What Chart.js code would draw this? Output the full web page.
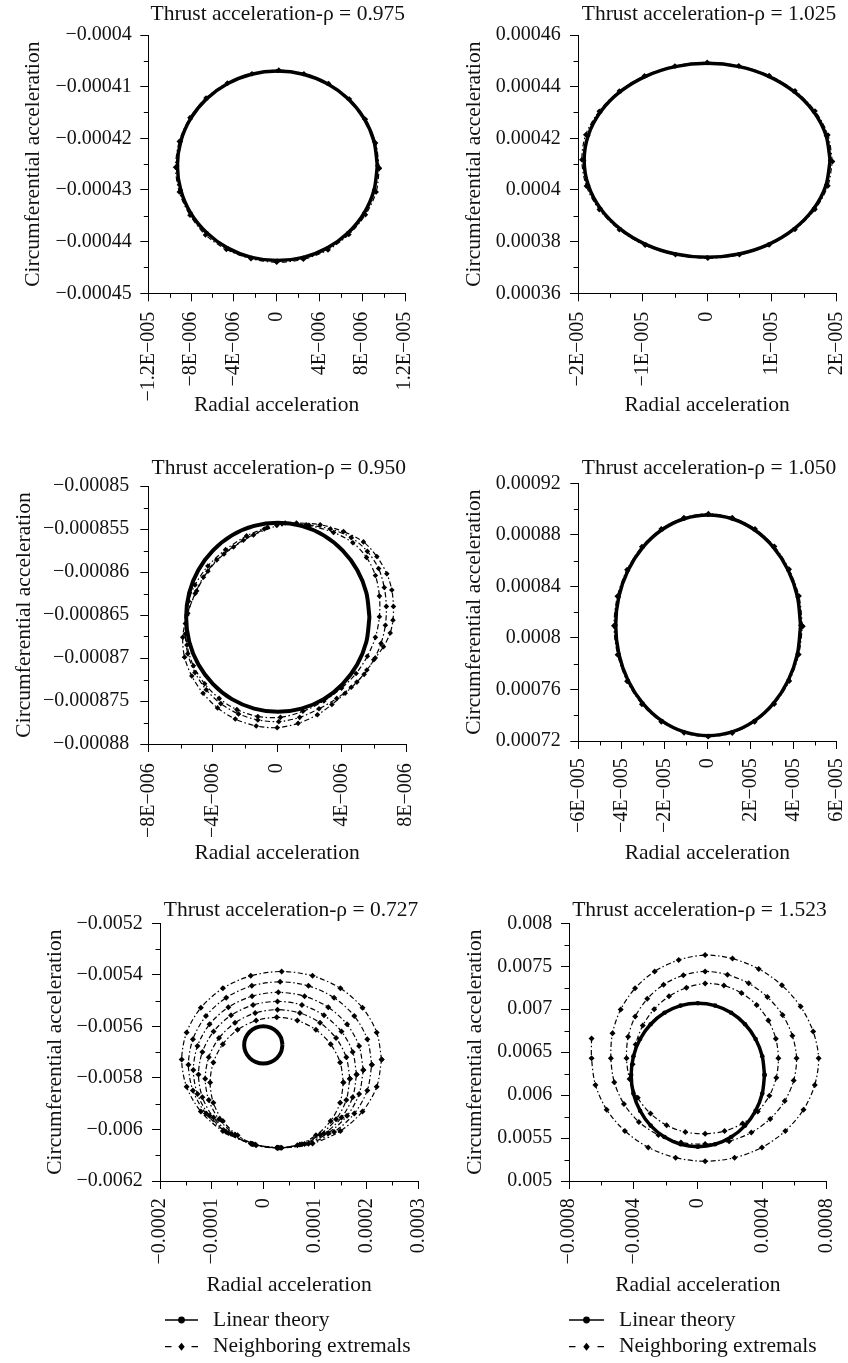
<!DOCTYPE html>
<html>
<head>
<meta charset="utf-8">
<script src="https://cdn.jsdelivr.net/npm/chart.js@4.4.0/dist/chart.umd.min.js"></script>
<style>
html,body{margin:0;padding:0;background:#fff;overflow:hidden;width:848px;height:1363px;position:relative;}
canvas{position:absolute;}
</style>
</head>
<body>
<canvas id="c1"></canvas><canvas id="c2"></canvas><canvas id="c3"></canvas>
<canvas id="c4"></canvas><canvas id="c5"></canvas><canvas id="c6"></canvas>
<script>
// ---------------- text ----------------
const panelTitles = ['Thrust acceleration-ρ = 0.975','Thrust acceleration-ρ = 1.025','Thrust acceleration-ρ = 0.950','Thrust acceleration-ρ = 1.050','Thrust acceleration-ρ = 0.727','Thrust acceleration-ρ = 1.523'];
const xAxisTitle = 'Radial acceleration';
const yAxisTitle = 'Circumferential acceleration';
const seriesNames = ['Linear theory','Neighboring extremals'];

// ---------------- ticks ----------------
const p1XTicks = [-1.2e-5,-8e-6,-4e-6,0,4e-6,8e-6,1.2e-5];
const p1XLabels = ['−1.2E−005','−8E−006','−4E−006','0','4E−006','8E−006','1.2E−005'];
const p1YTicks = [-0.00045,-0.00044,-0.00043,-0.00042,-0.00041,-0.0004];
const p1YLabels = ['−0.00045','−0.00044','−0.00043','−0.00042','−0.00041','−0.0004'];
const p2XTicks = [-2e-5,-1e-5,0,1e-5,2e-5];
const p2XLabels = ['−2E−005','−1E−005','0','1E−005','2E−005'];
const p2YTicks = [0.00036,0.00038,0.0004,0.00042,0.00044,0.00046];
const p2YLabels = ['0.00036','0.00038','0.0004','0.00042','0.00044','0.00046'];
const p3XTicks = [-8e-6,-4e-6,0,4e-6,8e-6];
const p3XLabels = ['−8E−006','−4E−006','0','4E−006','8E−006'];
const p3YTicks = [-0.00088,-0.000875,-0.00087,-0.000865,-0.00086,-0.000855,-0.00085];
const p3YLabels = ['−0.00088','−0.000875','−0.00087','−0.000865','−0.00086','−0.000855','−0.00085'];
const p4XTicks = [-6e-5,-4e-5,-2e-5,0,2e-5,4e-5,6e-5];
const p4XLabels = ['−6E−005','−4E−005','−2E−005','0','2E−005','4E−005','6E−005'];
const p4YTicks = [0.00072,0.00076,0.0008,0.00084,0.00088,0.00092];
const p4YLabels = ['0.00072','0.00076','0.0008','0.00084','0.00088','0.00092'];
const p5XTicks = [-0.0002,-0.0001,0,0.0001,0.0002,0.0003];
const p5XLabels = ['−0.0002','−0.0001','0','0.0001','0.0002','0.0003'];
const p5YTicks = [-0.0062,-0.006,-0.0058,-0.0056,-0.0054,-0.0052];
const p5YLabels = ['−0.0062','−0.006','−0.0058','−0.0056','−0.0054','−0.0052'];
const p6XTicks = [-0.0008,-0.0004,0,0.0004,0.0008];
const p6XLabels = ['−0.0008','−0.0004','0','0.0004','0.0008'];
const p6YTicks = [0.005,0.0055,0.006,0.0065,0.007,0.0075,0.008];
const p6YLabels = ['0.005','0.0055','0.006','0.0065','0.007','0.0075','0.008'];

// ---------------- data: panel 1 (rho = 0.975) ----------------
const p1LinX = [9.42e-6,9.10e-6,8.17e-6,6.68e-6,4.75e-6,2.49e-6,0.07e-6,-2.35e-6,-4.61e-6,-6.54e-6,-8.03e-6,-8.96e-6,-9.28e-6,-8.96e-6,-8.03e-6,-6.54e-6,-4.61e-6,-2.35e-6,0.07e-6,2.49e-6,4.75e-6,6.68e-6,8.17e-6,9.10e-6,9.42e-6];
const p1LinY = [-425.32e-6,-420.57e-6,-416.15e-6,-412.35e-6,-409.43e-6,-407.59e-6,-406.97e-6,-407.59e-6,-409.43e-6,-412.35e-6,-416.15e-6,-420.57e-6,-425.32e-6,-430.07e-6,-434.50e-6,-438.29e-6,-441.21e-6,-443.05e-6,-443.67e-6,-443.05e-6,-441.21e-6,-438.29e-6,-434.50e-6,-430.07e-6,-425.32e-6];
const p1NbrX = [9.6e-6,9.25e-6,8.3e-6,6.8e-6,4.85e-6,2.55e-6,0.2e-6,-2.3e-6,-4.6e-6,-6.6e-6,-8.1e-6,-9.1e-6,-9.45e-6,-9.1e-6,-8.1e-6,-6.65e-6,-4.7e-6,-2.4e-6,0,2.5e-6,4.8e-6,6.75e-6,8.3e-6,9.3e-6,9.6e-6];
const p1NbrY = [-425.8e-6,-420.9e-6,-416.3e-6,-412.4e-6,-409.4e-6,-407.5e-6,-406.8e-6,-407.5e-6,-409.3e-6,-412.2e-6,-416.0e-6,-420.6e-6,-425.6e-6,-430.4e-6,-434.9e-6,-438.7e-6,-441.5e-6,-443.3e-6,-444.0e-6,-443.4e-6,-441.6e-6,-438.6e-6,-434.8e-6,-430.4e-6,-425.8e-6];

// ---------------- data: panel 2 (rho = 1.025) ----------------
const p2LinX = [19.05e-6,18.40e-6,16.50e-6,13.47e-6,9.53e-6,4.93e-6,0,-4.93e-6,-9.53e-6,-13.47e-6,-16.50e-6,-18.40e-6,-19.05e-6,-18.40e-6,-16.50e-6,-13.47e-6,-9.53e-6,-4.93e-6,0,4.93e-6,9.53e-6,13.47e-6,16.50e-6,18.40e-6,19.05e-6];
const p2LinY = [411.49e-6,421.22e-6,430.27e-6,438.04e-6,444.01e-6,447.76e-6,449.04e-6,447.76e-6,444.01e-6,438.04e-6,430.27e-6,421.22e-6,411.49e-6,401.77e-6,392.72e-6,384.94e-6,378.97e-6,375.22e-6,373.94e-6,375.22e-6,378.97e-6,384.94e-6,392.72e-6,401.77e-6,411.49e-6];
const p2NbrX = [19.4e-6,18.7e-6,16.7e-6,13.6e-6,9.6e-6,4.9e-6,0,-5.0e-6,-9.7e-6,-13.6e-6,-16.7e-6,-18.8e-6,-19.4e-6,-18.7e-6,-16.7e-6,-13.6e-6,-9.6e-6,-4.9e-6,0.1e-6,5.0e-6,9.6e-6,13.6e-6,16.7e-6,18.7e-6,19.4e-6];
const p2NbrY = [411.0e-6,421.3e-6,430.6e-6,438.4e-6,444.3e-6,448.1e-6,449.4e-6,448.0e-6,444.2e-6,438.3e-6,430.5e-6,421.4e-6,411.7e-6,401.5e-6,392.4e-6,384.6e-6,378.6e-6,374.9e-6,373.6e-6,374.9e-6,378.7e-6,384.7e-6,392.5e-6,401.6e-6,411.0e-6];

// ---------------- data: panel 3 (rho = 0.950) ----------------
const p3LinX = [5.73e-6,5.54e-6,4.97e-6,4.06e-6,2.89e-6,1.51e-6,0.04e-6,-1.43e-6,-2.81e-6,-3.98e-6,-4.89e-6,-5.46e-6,-5.65e-6,-5.46e-6,-4.89e-6,-3.98e-6,-2.81e-6,-1.43e-6,0.04e-6,1.51e-6,2.89e-6,4.06e-6,4.97e-6,5.54e-6,5.73e-6];
const p3LinY = [-865.26e-6,-862.41e-6,-859.77e-6,-857.49e-6,-855.74e-6,-854.64e-6,-854.27e-6,-854.64e-6,-855.74e-6,-857.49e-6,-859.77e-6,-862.41e-6,-865.26e-6,-868.11e-6,-870.76e-6,-873.03e-6,-874.78e-6,-875.88e-6,-876.25e-6,-875.88e-6,-874.78e-6,-873.03e-6,-870.76e-6,-868.11e-6,-865.26e-6];
const p3NbrX1 = [0.5e-6,2.0e-6,3.5e-6,4.7e-6,5.55e-6,6.1e-6,6.35e-6,6.35e-6,6.1e-6,5.6e-6,4.9e-6,4.0e-6,2.9e-6,1.6e-6,0.2e-6,-1.2e-6,-2.5e-6,-3.6e-6,-4.5e-6,-5.2e-6,-5.6e-6,-5.7e-6,-5.5e-6,-5.1e-6,-4.3e-6,-3.2e-6,-1.9e-6,-0.6e-6];
const p3NbrY1 = [-854.3e-6,-854.6e-6,-855.4e-6,-856.6e-6,-858.3e-6,-860.4e-6,-862.8e-6,-865.2e-6,-867.6e-6,-869.8e-6,-871.8e-6,-873.5e-6,-875.0e-6,-876.2e-6,-876.9e-6,-876.8e-6,-876.0e-6,-874.7e-6,-873.0e-6,-870.9e-6,-868.5e-6,-866.0e-6,-863.4e-6,-861.5e-6,-859.3e-6,-857.4e-6,-855.8e-6,-854.8e-6];
const p3NbrX2 = [0.3e-6,1.8e-6,3.3e-6,4.6e-6,5.6e-6,6.3e-6,6.65e-6,6.78e-6,6.72e-6,6.45e-6,6.0e-6,5.4e-6,4.6e-6,3.7e-6,2.6e-6,1.4e-6,0.1e-6,-1.2e-6,-2.4e-6,-3.5e-6,-4.4e-6,-5.1e-6,-5.55e-6,-5.7e-6,-5.55e-6,-5.0e-6,-4.3e-6,-3.3e-6,-2.1e-6,-0.8e-6];
const p3NbrY2 = [-854.4e-6,-854.5e-6,-855.0e-6,-856.0e-6,-857.6e-6,-859.6e-6,-861.8e-6,-864.0e-6,-866.2e-6,-868.3e-6,-870.2e-6,-871.9e-6,-873.4e-6,-874.7e-6,-875.9e-6,-876.9e-6,-877.4e-6,-877.2e-6,-876.5e-6,-875.3e-6,-873.7e-6,-871.7e-6,-869.5e-6,-867.2e-6,-864.8e-6,-862.2e-6,-859.9e-6,-857.9e-6,-856.3e-6,-855.0e-6];
const p3NbrX3 = [0.0,1.2e-6,2.67e-6,4.12e-6,5.36e-6,6.19e-6,6.81e-6,7.12e-6,7.22e-6,7.19e-6,7.02e-6,6.6e-6,6.09e-6,5.57e-6,4.95e-6,4.22e-6,3.4e-6,2.5e-6,1.3e-6,0.0,-1.3e-6,-2.6e-6,-3.7e-6,-4.6e-6,-5.3e-6,-5.75e-6,-5.86e-6,-5.6e-6,-5.09e-6,-4.58e-6,-3.75e-6,-2.71e-6,-1.47e-6,-0.02e-6];
const p3NbrY3 = [-854.4e-6,-854.3e-6,-854.5e-6,-855.3e-6,-856.5e-6,-858.2e-6,-860.2e-6,-862.1e-6,-864.0e-6,-865.6e-6,-867.1e-6,-868.7e-6,-870.0e-6,-871.4e-6,-872.8e-6,-874.1e-6,-875.4e-6,-876.6e-6,-877.6e-6,-878.1e-6,-877.9e-6,-877.1e-6,-875.8e-6,-874.1e-6,-872.1e-6,-869.9e-6,-867.6e-6,-865.0e-6,-862.5e-6,-860.6e-6,-858.6e-6,-857.1e-6,-855.7e-6,-854.6e-6];

// ---------------- data: panel 4 (rho = 1.050) ----------------
const p4LinX = [43.39e-6,41.93e-6,37.63e-6,30.79e-6,21.89e-6,11.53e-6,0.39e-6,-10.75e-6,-21.11e-6,-30.01e-6,-36.85e-6,-41.15e-6,-42.61e-6,-41.15e-6,-36.85e-6,-30.01e-6,-21.11e-6,-10.75e-6,0.39e-6,11.53e-6,21.89e-6,30.79e-6,37.63e-6,41.93e-6,43.39e-6];
const p4LinY = [809.78e-6,831.96e-6,852.60e-6,870.33e-6,883.94e-6,892.51e-6,895.42e-6,892.51e-6,883.94e-6,870.33e-6,852.60e-6,831.96e-6,809.78e-6,787.60e-6,766.96e-6,749.23e-6,735.62e-6,727.05e-6,724.14e-6,727.05e-6,735.62e-6,749.23e-6,766.96e-6,787.60e-6,809.78e-6];
const p4NbrX = [44.3e-6,42.6e-6,38.0e-6,31.2e-6,22.2e-6,11.6e-6,0.5e-6,-10.9e-6,-21.4e-6,-30.4e-6,-37.3e-6,-41.8e-6,-43.4e-6,-41.7e-6,-37.3e-6,-30.4e-6,-21.4e-6,-10.8e-6,0.4e-6,11.6e-6,22.0e-6,31.1e-6,38.1e-6,42.5e-6,44.3e-6];
const p4NbrY = [809.0e-6,832.5e-6,853.3e-6,871.0e-6,884.6e-6,893.3e-6,896.3e-6,893.2e-6,884.5e-6,870.8e-6,853.0e-6,832.3e-6,809.5e-6,787.0e-6,766.4e-6,748.6e-6,735.0e-6,726.4e-6,723.4e-6,726.3e-6,735.0e-6,748.7e-6,766.5e-6,787.2e-6,809.0e-6];

// ---------------- data: panel 5 (rho = 0.727) ----------------
const p5LinX = [0.371e-4,0.343e-4,0.262e-4,0.142e-4,0,-0.142e-4,-0.262e-4,-0.343e-4,-0.371e-4,-0.343e-4,-0.262e-4,-0.142e-4,0,0.142e-4,0.262e-4,0.343e-4,0.371e-4];
const p5LinY = [-56.72e-4,-56.443e-4,-56.208e-4,-56.051e-4,-55.996e-4,-56.051e-4,-56.208e-4,-56.443e-4,-56.72e-4,-56.997e-4,-57.232e-4,-57.389e-4,-57.444e-4,-57.389e-4,-57.232e-4,-56.997e-4,-56.72e-4];
const p5NbrX = [
 [2.29e-4,2.195e-4,1.92e-4,1.493e-4,0.953e-4,0.355e-4,-0.243e-4,-0.783e-4,-1.21e-4,-1.485e-4,-1.58e-4,-1.485e-4,-1.21e-4,-0.783e-4,-0.243e-4,0.355e-4,0.953e-4,1.493e-4,1.92e-4,2.195e-4,2.29e-4],
 [2.10e-4,2.013e-4,1.761e-4,1.369e-4,0.873e-4,0.325e-4,-0.223e-4,-0.719e-4,-1.111e-4,-1.363e-4,-1.45e-4,-1.363e-4,-1.111e-4,-0.719e-4,-0.223e-4,0.325e-4,0.873e-4,1.369e-4,1.761e-4,2.013e-4,2.10e-4],
 [1.935e-4,1.854e-4,1.621e-4,1.257e-4,0.798e-4,0.29e-4,-0.218e-4,-0.677e-4,-1.041e-4,-1.274e-4,-1.355e-4,-1.274e-4,-1.041e-4,-0.677e-4,-0.218e-4,0.29e-4,0.798e-4,1.257e-4,1.621e-4,1.854e-4,1.935e-4],
 [1.805e-4,1.73e-4,1.513e-4,1.175e-4,0.748e-4,0.275e-4,-0.198e-4,-0.625e-4,-0.963e-4,-1.18e-4,-1.255e-4,-1.18e-4,-0.963e-4,-0.625e-4,-0.198e-4,0.275e-4,0.748e-4,1.175e-4,1.513e-4,1.73e-4,1.805e-4],
 [1.675e-4,1.606e-4,1.408e-4,1.098e-4,0.708e-4,0.275e-4,-0.158e-4,-0.548e-4,-0.858e-4,-1.056e-4,-1.125e-4,-1.056e-4,-0.858e-4,-0.548e-4,-0.158e-4,0.275e-4,0.708e-4,1.098e-4,1.408e-4,1.606e-4,1.675e-4],
 [1.55e-4,1.487e-4,1.304e-4,1.019e-4,0.659e-4,0.26e-4,-0.139e-4,-0.499e-4,-0.784e-4,-0.967e-4,-1.03e-4,-0.967e-4,-0.784e-4,-0.499e-4,-0.139e-4,0.26e-4,0.659e-4,1.019e-4,1.304e-4,1.487e-4,1.55e-4]
];
const p5NbrY = [
 [-57.29e-4,-56.233e-4,-55.279e-4,-54.523e-4,-54.038e-4,-53.87e-4,-54.038e-4,-54.523e-4,-55.279e-4,-56.233e-4,-57.29e-4,-58.347e-4,-59.301e-4,-60.057e-4,-60.542e-4,-60.71e-4,-60.542e-4,-60.057e-4,-59.301e-4,-58.347e-4,-57.29e-4],
 [-57.49e-4,-56.495e-4,-55.597e-4,-54.885e-4,-54.428e-4,-54.27e-4,-54.428e-4,-54.885e-4,-55.597e-4,-56.495e-4,-57.49e-4,-58.485e-4,-59.383e-4,-60.095e-4,-60.552e-4,-60.71e-4,-60.552e-4,-60.095e-4,-59.383e-4,-58.485e-4,-57.49e-4],
 [-57.695e-4,-56.763e-4,-55.922e-4,-55.256e-4,-54.828e-4,-54.68e-4,-54.828e-4,-55.256e-4,-55.922e-4,-56.763e-4,-57.695e-4,-58.627e-4,-59.468e-4,-60.134e-4,-60.562e-4,-60.71e-4,-60.562e-4,-60.134e-4,-59.468e-4,-58.627e-4,-57.695e-4],
 [-57.87e-4,-56.992e-4,-56.2e-4,-55.572e-4,-55.169e-4,-55.03e-4,-55.169e-4,-55.572e-4,-56.2e-4,-56.992e-4,-57.87e-4,-58.748e-4,-59.54e-4,-60.168e-4,-60.571e-4,-60.71e-4,-60.571e-4,-60.168e-4,-59.54e-4,-58.748e-4,-57.87e-4],
 [-58.03e-4,-57.202e-4,-56.454e-4,-55.862e-4,-55.481e-4,-55.35e-4,-55.481e-4,-55.862e-4,-56.454e-4,-57.202e-4,-58.03e-4,-58.858e-4,-59.606e-4,-60.198e-4,-60.579e-4,-60.71e-4,-60.579e-4,-60.198e-4,-59.606e-4,-58.858e-4,-58.03e-4],
 [-58.18e-4,-57.398e-4,-56.692e-4,-56.133e-4,-55.774e-4,-55.65e-4,-55.774e-4,-56.133e-4,-56.692e-4,-57.398e-4,-58.18e-4,-58.962e-4,-59.668e-4,-60.227e-4,-60.614e-4,-60.71e-4,-60.614e-4,-60.227e-4,-59.668e-4,-58.962e-4,-58.18e-4]
];

// ---------------- data: panel 6 (rho = 1.523) ----------------
const p6LinX = [4.14e-4,4.0e-4,3.585e-4,2.93e-4,2.07e-4,1.07e-4,0,-1.07e-4,-2.07e-4,-2.93e-4,-3.585e-4,-4.0e-4,-4.14e-4,-4.0e-4,-3.585e-4,-2.93e-4,-2.07e-4,-1.07e-4,0,1.07e-4,2.07e-4,2.93e-4,3.585e-4,4.0e-4,4.14e-4];
const p6LinY = [62.35e-4,64.51e-4,66.53e-4,68.25e-4,69.58e-4,70.42e-4,70.7e-4,70.42e-4,69.58e-4,68.25e-4,66.53e-4,64.51e-4,62.35e-4,60.19e-4,58.18e-4,56.45e-4,55.12e-4,54.28e-4,54.0e-4,54.28e-4,55.12e-4,56.45e-4,58.18e-4,60.19e-4,62.35e-4];
const p6NbrX = [-6.6e-4,-6.6e-4,-6.36e-4,-5.66e-4,-4.53e-4,-3.08e-4,-1.38e-4,0.45e-4,2.28e-4,3.98e-4,5.43e-4,6.56e-4,7.26e-4,7.5e-4,7.16e-4,6.38e-4,5.22e-4,3.78e-4,2.15e-4,0.45e-4,-1.19e-4,-2.68e-4,-3.9e-4,-4.79e-4,-5.3e-4,-5.4e-4,-5.19e-4,-4.59e-4,-3.66e-4,-2.45e-4,-1.05e-4,0.45e-4,1.94e-4,3.32e-4,4.49e-4,5.39e-4,5.95e-4,6.13e-4,5.87e-4,5.26e-4,4.32e-4,3.16e-4,1.84e-4,0.45e-4,-0.9e-4,-2.13e-4,-3.14e-4,-3.89e-4,-4.33e-4,-4.43e-4,-4.24e-4,-3.73e-4,-2.94e-4,-1.94e-4,-0.78e-4,0.45e-4,1.66e-4,2.78e-4,3.72e-4,4.44e-4,4.87e-4,5.0e-4,4.84e-4,4.38e-4,3.65e-4,2.71e-4,1.62e-4,0.45e-4,-0.71e-4,-1.79e-4,-2.71e-4,-3.42e-4,-3.86e-4,-4.05e-4];
const p6NbrY = [66.6e-4,64.3e-4,61.19e-4,58.3e-4,55.82e-4,53.91e-4,52.71e-4,52.3e-4,52.71e-4,53.91e-4,55.82e-4,58.3e-4,61.19e-4,64.3e-4,67.41e-4,70.3e-4,72.78e-4,74.69e-4,75.89e-4,76.3e-4,75.73e-4,74.4e-4,72.43e-4,69.97e-4,67.19e-4,64.3e-4,61.5e-4,58.97e-4,56.88e-4,55.35e-4,54.48e-4,54.3e-4,54.64e-4,55.64e-4,57.23e-4,59.3e-4,61.71e-4,64.3e-4,66.9e-4,69.33e-4,71.41e-4,73.01e-4,74.01e-4,74.4e-4,73.95e-4,72.86e-4,71.21e-4,69.14e-4,66.78e-4,64.3e-4,61.88e-4,59.68e-4,57.85e-4,56.49e-4,55.69e-4,55.5e-4,55.81e-4,56.7e-4,58.1e-4,59.92e-4,62.03e-4,64.3e-4,66.57e-4,68.68e-4,70.49e-4,71.88e-4,72.75e-4,73.0e-4,72.5e-4,71.5e-4,70.0e-4,68.1e-4,65.9e-4,63.6e-4];

// ---------------- rendering ----------------
const FONT = "'Liberation Serif','Times New Roman',serif";
const TXT = '#111';
Chart.defaults.font.family = FONT;
Chart.defaults.color = TXT;

function pts(xs, ys){ return xs.map((x,i)=>({x:x, y:ys[i]})); }

const minorTicks = {
  id:'minorTicks',
  afterDraw(chart){
    const ctx = chart.ctx, a = chart.chartArea;
    ctx.save(); ctx.strokeStyle = '#000'; ctx.lineWidth = 1;
    ['x','y'].forEach(id=>{
      const s = chart.scales[id]; const t = s.ticks.map(k=>k.value);
      for (let i=0;i<t.length-1;i++){
        const p = Math.round(s.getPixelForValue((t[i]+t[i+1])/2)) + 0.5;
        ctx.beginPath();
        if (id==='x'){ ctx.moveTo(p, a.bottom); ctx.lineTo(p, a.bottom+4.5); }
        else { ctx.moveTo(a.left-4.5, p); ctx.lineTo(a.left, p); }
        ctx.stroke();
      }
    });
    ctx.restore();
  }
};

const sampleLegend = {
  id:'sampleLegend',
  afterDraw(chart, args, o){
    if (!o || !o.show) return;
    const ctx = chart.ctx; ctx.save();
    ctx.fillStyle = '#000'; ctx.strokeStyle = '#000';
    const cx = (o.x0+o.x1)/2;
    ctx.lineWidth = 1.6;
    ctx.beginPath(); ctx.moveTo(o.x0, o.y1); ctx.lineTo(o.x1, o.y1); ctx.stroke();
    ctx.beginPath(); ctx.arc(cx, o.y1, 3.4, 0, Math.PI*2); ctx.fill();
    ctx.lineWidth = 1.3;
    ctx.beginPath(); ctx.moveTo(o.x0, o.y2); ctx.lineTo(o.x0+6.5, o.y2); ctx.moveTo(o.x1-6.5, o.y2); ctx.lineTo(o.x1, o.y2); ctx.stroke();
    ctx.beginPath(); ctx.moveTo(cx, o.y2-4); ctx.lineTo(cx+3.2, o.y2); ctx.lineTo(cx, o.y2+4); ctx.lineTo(cx-3.2, o.y2); ctx.closePath(); ctx.fill();
    ctx.font = '21.5px ' + FONT; ctx.textBaseline = 'middle'; ctx.textAlign = 'left'; ctx.fillStyle = TXT;
    ctx.fillText(seriesNames[0], o.tx, o.y1);
    ctx.fillText(seriesNames[1], o.tx, o.y2);
    ctx.restore();
  }
};

// layout per panel (canvas wider than the column so the x-axis end labels never squeeze the plot)
const panels = [
 {id:'c1', left:0, top:0, w:520, h:440, pad:{left:0,right:115,top:0,bottom:22.1}, titlePad:{top:1,bottom:8.2}, yW:148.3, yTitlePad:20.1, yTickPad:8.6, xH:124.6, xTickPad:10.4,
  title:panelTitles[0], xT:p1XTicks, xL:p1XLabels, yT:p1YTicks, yL:p1YLabels,
  lin:pts(p1LinX,p1LinY), nbr:[pts(p1NbrX,p1NbrY)], linW:3.5, linR:2, nbrR:2.8},
 {id:'c2', left:424, top:0, w:520, h:440, pad:{left:0,right:107.7,top:0,bottom:22.1}, titlePad:{top:1,bottom:8.2}, yW:154, yTitlePad:37.9, yTickPad:9.3, xH:124.6, xTickPad:10.4,
  title:panelTitles[1], xT:p2XTicks, xL:p2XLabels, yT:p2YTicks, yL:p2YLabels,
  lin:pts(p2LinX,p2LinY), nbr:[pts(p2NbrX,p2NbrY)], linW:3.5, linR:2, nbrR:2.8},
 {id:'c3', left:0, top:440, w:520, h:440, pad:{left:0,right:114,top:0,bottom:14.1}, titlePad:{top:15.4,bottom:4.8}, yW:148.3, yTitlePad:11.1, yTickPad:11, xH:121.9, xTickPad:11.3,
  title:panelTitles[2], xT:p3XTicks, xL:p3XLabels, yT:p3YTicks, yL:p3YLabels,
  lin:pts(p3LinX,p3LinY), nbr:[pts(p3NbrX1,p3NbrY1),pts(p3NbrX2,p3NbrY2),pts(p3NbrX3,p3NbrY3)], linW:4, linR:1.5, nbrR:2.8},
 {id:'c4', left:424, top:440, w:520, h:440, pad:{left:0,right:107.7,top:0,bottom:14.1}, titlePad:{top:15.4,bottom:2.1}, yW:154.3, yTitlePad:37.9, yTickPad:9.6, xH:124.9, xTickPad:9.3,
  title:panelTitles[3], xT:p4XTicks, xL:p4XLabels, yT:p4YTicks, yL:p4YLabels,
  lin:pts(p4LinX,p4LinY), nbr:[pts(p4NbrX,p4NbrY)], linW:3.5, linR:2, nbrR:3},
 {id:'c5', left:0, top:880, w:520, h:483, pad:{left:0,right:101.7,top:0,bottom:65.1}, titlePad:{top:17.1,bottom:0.4}, yW:160, yTitlePad:42.1, yTickPad:9.3, xH:116.9, xTickPad:9.3,
  title:panelTitles[4], xT:p5XTicks, xL:p5XLabels, yT:p5YTicks, yL:p5YLabels,
  lin:pts(p5LinX,p5LinY), nbr:p5NbrX.map((xs,i)=>pts(xs,p5NbrY[i])), linW:4, linR:0, nbrR:3,
  legend:{show:true,x0:165,x1:198,tx:213,y1:440,y2:466.7}},
 {id:'c6', left:424, top:880, w:520, h:483, pad:{left:0,right:117.3,top:0,bottom:65.1}, titlePad:{top:17.1,bottom:0.4}, yW:145, yTitlePad:38.1, yTickPad:8.7, xH:116.9, xTickPad:9.3,
  title:panelTitles[5], xT:p6XTicks, xL:p6XLabels, yT:p6YTicks, yL:p6YLabels,
  lin:pts(p6LinX,p6LinY), nbr:[pts(p6NbrX,p6NbrY)], linW:3.5, linR:2.3, nbrR:3,
  legend:{show:true,x0:145,x1:180,tx:195,y1:440,y2:466.7}}
];

function axis(ticks, labels, isX, p){
  return {
    type:'linear', position: isX ? 'bottom' : 'left',
    min: ticks[0], max: ticks[ticks.length-1],
    afterBuildTicks: s => { s.ticks = ticks.map(v=>({value:v})); },
    afterFit: s => { if (isX) s.height = p.xH; else s.width = p.yW; },
    ticks: Object.assign({autoSkip:false, padding: isX ? p.xTickPad : p.yTickPad, font:{size:20}, color:TXT,
      callback:(v,i)=>labels[i]}, isX ? {maxRotation:90, minRotation:90} : {}),
    grid:{drawOnChartArea:false, drawTicks:true, tickLength:8, tickColor:'#000', tickWidth:1},
    border:{display:true, color:'#000', width:1},
    title:{display:true, text: isX ? xAxisTitle : yAxisTitle, font:{size:21.5, weight:'normal'}, color:TXT,
      padding: isX ? {top:0,bottom:0} : {top:p.yTitlePad,bottom:0}}
  };
}

panels.forEach(p=>{
  const cv = document.getElementById(p.id);
  cv.width = p.w; cv.height = p.h;
  cv.style.left = p.left+'px'; cv.style.top = p.top+'px';
  cv.style.width = p.w+'px'; cv.style.height = p.h+'px';
  const datasets = [{
    label: seriesNames[0], data: p.lin, showLine:true, borderColor:'#000', backgroundColor:'#000',
    borderWidth:p.linW, pointRadius:p.linR, pointStyle:'circle', pointBorderWidth:0, tension:0.3
  }].concat(p.nbr.map(d=>({
    label: seriesNames[1], data: d, showLine:true, borderColor:'#000', backgroundColor:'#000',
    borderWidth:1.2, borderDash:[5,2.5,1.5,2.5], pointRadius:p.nbrR, pointStyle:'rectRot', pointBorderWidth:0, tension:0.3
  })));
  new Chart(cv, {
    type:'scatter',
    data:{datasets},
    options:{
      responsive:false, animation:false, devicePixelRatio:1,
      layout:{padding:p.pad},
      plugins:{
        legend:{display:false}, tooltip:{enabled:false},
        title:{display:true, text:p.title, font:{size:21.5, weight:'normal'}, color:TXT, padding:p.titlePad, fullSize:true, align:'end'},
        sampleLegend: p.legend || {show:false}
      },
      scales:{ x: axis(p.xT, p.xL, true, p), y: axis(p.yT, p.yL, false, p) }
    },
    plugins:[minorTicks, sampleLegend]
  });
});
</script>
</body>
</html>
